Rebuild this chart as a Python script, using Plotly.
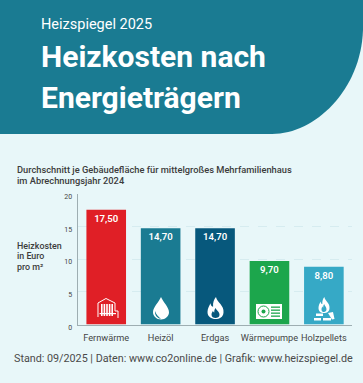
import plotly.graph_objects as go

W, H = 363, 383
categories = ["Fernwärme", "Heizöl", "Erdgas", "Wärmepumpe", "Holzpellets"]
values = [17.5, 14.7, 14.7, 9.7, 8.8]
colors = ["#e01f26", "#1a7b92", "#07587c", "#1ca64c", "#36a9c6"]
y_ticks = [0, 5, 10, 15, 20]
TEAL = "#1a7b92"
BG = "#e8f7f9"
TXT = "#3c3c3c"
FONT = "Roboto"


def px(x, y):
    return f"{x / W:.5f},{1 - y / H:.5f}"


def path(cmds):
    out = []
    for c in cmds:
        if isinstance(c, str):
            out.append(c)
        else:
            out.append(px(*c))
    return " ".join(out)


def shape(cmds, fill="white", line=None, lw=1):
    return dict(type="path", xref="paper", yref="paper", path=path(cmds), fillcolor=fill,
                line=dict(color=line or "rgba(0,0,0,0)", width=lw if line else 0), layer="above")


def rect(x0, y0, x1, y1, fill="white", line=None, lw=1):
    return shape(["M", (x0, y0), "L", (x1, y0), "L", (x1, y1), "L", (x0, y1), "Z"], fill, line, lw)


def drop(cx, top, r):
    by = top + r * 1.8
    return ["M", (cx, top), "C", (cx + r * .25, top + r * .6), (cx + r, by - r * .5), (cx + r, by + r * .1),
            "C", (cx + r, by + r * .6), (cx + r * .55, by + r), (cx, by + r),
            "C", (cx - r * .55, by + r), (cx - r, by + r * .6), (cx - r, by + r * .1),
            "C", (cx - r, by - r * .5), (cx - r * .25, top + r * .6), (cx, top), "Z"]


def flame(cx, top, w, h, fill):
    b = top + h
    return shape(["M", (cx + w * .03, top), "C", (cx + w * .1, top + h * .25), (cx + w * .55, top + h * .38), (cx + w * .5, b - h * .3),
                  "C", (cx + w * .48, b - h * .08), (cx + w * .25, b), (cx, b),
                  "C", (cx - w * .25, b), (cx - w * .5, b - h * .1), (cx - w * .5, b - h * .32),
                  "C", (cx - w * .5, b - h * .5), (cx - w * .38, b - h * .6), (cx - w * .32, b - h * .72),
                  "C", (cx - w * .28, b - h * .6), (cx - w * .22, b - h * .56), (cx - w * .15, b - h * .56),
                  "C", (cx - w * .18, b - h * .75), (cx - w * .08, b - h * .9), (cx + w * .03, top), "Z"], fill)


shapes = [
    # header
    shape(["M", (0, 0), "L", (W, 0), "L", (W, 30),
           "C", (W - 2, 90), (W - 48, 134), (272, 134), "L", (0, 134), "Z"], TEAL),
    # radiator icon
    shape(["M", (98, 317), "L", (98, 303), "L", (106, 298.5), "L", (115, 303), "L", (115, 311),
           "L", (118, 311), "L", (118, 318)], "rgba(0,0,0,0)", "white", 1),
]
shapes += [rect(x, 304, x + 1.6, 316) for x in (101, 103.6, 106.2, 108.8, 111.4)]
shapes += [rect(99.5, 313, 116, 314.2)]
# drop
shapes.append(shape(drop(161, 297, 8)))
shapes.append(shape(["M", (155, 311), "C", (154.5, 315), (157, 318), (161, 319), "C", (158, 316.5), (156, 314), (155, 311), "Z"], colors[1]))
# flame erdgas
shapes.append(flame(215.5, 297, 16, 22, "white"))
shapes.append(flame(215.5, 308, 8, 10, colors[2]))
# heat pump
shapes.append(rect(256, 304, 282, 319))
shapes.append(dict(type="circle", xref="paper", yref="paper", x0=258/W, x1=269/W, y0=1-317/H, y1=1-306/H,
                   fillcolor="white", line=dict(color=colors[3], width=1), layer="above"))
shapes.append(dict(type="circle", xref="paper", yref="paper", x0=261.5/W, x1=265.5/W, y0=1-313.5/H, y1=1-309.5/H,
                   fillcolor=colors[3], line=dict(width=0), layer="above"))
shapes += [rect(271, y, 280, y + 1.3, colors[3]) for y in (306.5, 309.5, 312.5, 315.5)]
# pellets
shapes.append(flame(324, 297, 11, 16, "white"))
shapes.append(flame(324, 304, 5, 8, colors[4]))
shapes.append(rect(316, 313.5, 323, 316))
shapes.append(rect(314, 318, 321, 320.5))
shapes.append(rect(323, 318, 331, 320.5))
shapes.append(shape(["M", (328, 313), "L", (333, 312), "L", (334.5, 319), "L", (332, 319.5), "Z"]))


def note(x, y, text, size, weight=400, color=TXT, anchor="left"):
    return dict(x=x / W, y=1 - y / H, xref="paper", yref="paper", text=text, showarrow=False,
                xanchor=anchor, yanchor="middle", align="left", xshift=-1,
                font=dict(family=FONT, size=size, color=color, weight=weight))


annotations = [
    note(40, 24.5, "Heizspiegel 2025", 14.5, 400, "white"),
    note(40, 57, "Heizkosten nach", 30, 700, "white"),
    note(40, 98, "Energieträgern", 30, 700, "white"),
    note(16, 169, "Durchschnitt je Gebäudefläche für mittelgroßes Mehrfamilienhaus", 9.3, 500),
    note(16, 180, "im Abrechnungsjahr 2024", 9.3, 500),
    note(16, 245.5, "Heizkosten", 8.9, 500),
    note(16, 256, "in Euro", 8.9, 500),
    note(16, 267, "pro m²", 8.9, 500),
    note(13, 358.5, "Stand: 09/2025 | Daten: www.co2online.de | Grafik: www.heizspiegel.de", 10.75, 400, "#4a4a4a"),
]

fig = go.Figure(go.Bar(
    x=categories, y=values, marker=dict(color=colors, line=dict(width=0)), width=0.728,
    texttemplate="%{y:.2f}", textposition="inside", insidetextanchor="end", textangle=0, constraintext="none",
    textfont=dict(family=FONT, size=9.6, color="white", weight=600),
))
fig.update_layout(
    width=W, height=H, margin=dict(l=0, r=0, t=0, b=0, autoexpand=False), paper_bgcolor=BG, plot_bgcolor=BG,
    separators=",.", showlegend=False, shapes=shapes, annotations=annotations,
    xaxis=dict(domain=[77.5 / W, 352 / W], range=[-0.528, 4.517], showgrid=False, showline=True, linecolor="#9eaeb2",
               linewidth=1, ticks="", tickangle=0, automargin=False, ticklabelstandoff=4,
               tickfont=dict(family=FONT, size=9.2, color="#454545"), anchor="y"),
    yaxis=dict(domain=[1 - 324.5 / H, 1 - 193.5 / H], range=[0, 20], tickvals=y_ticks, showgrid=True, automargin=False,
               gridcolor="#d6ecf0", griddash="dash", gridwidth=1, showline=True, linecolor="#9eaeb2", linewidth=1,
               zeroline=False, ticks="", tickfont=dict(family=FONT, size=7, color="#454545"), ticklabelshift=3, ticklabelstandoff=3),
)
fig.write_html("out.html", config=dict(displayModeBar=False),
               post_script="document.body.style.margin='0';document.documentElement.style.background='#e8f7f9';")
